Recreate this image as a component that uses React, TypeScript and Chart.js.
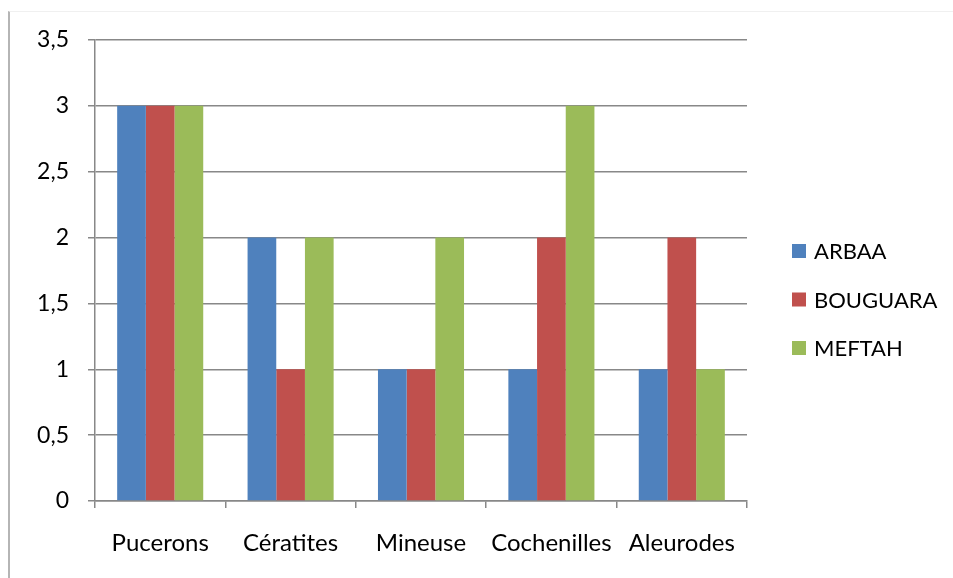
import React, { useEffect, useRef } from "react";
import { Chart, registerables } from "chart.js";

Chart.register(...registerables);

const categories = ["Pucerons", "Cératites", "Mineuse", "Cochenilles", "Aleurodes"];
const seriesNames = ["ARBAA", "BOUGUARA", "MEFTAH"];
const arbaa = [3, 2, 1, 1, 1];
const bouguara = [3, 1, 1, 2, 2];
const meftah = [3, 2, 2, 3, 1];
const seriesColors = ["#4F81BD", "#C0504D", "#9BBB59"];

const FONT = "Lato, 'Open Sans', sans-serif";
const Y_FONT_SIZE = 23;
const X_FONT_SIZE = 24;
const LEGEND_FONT_SIZE = 22;

const legendPlugin = {
  id: "sideLegend",
  afterDraw(chart: any) {
    const { ctx, chartArea } = chart;
    const mid = (chartArea.top + chartArea.bottom) / 2;
    const x = chartArea.right + 45;
    ctx.save();
    ctx.font = `${LEGEND_FONT_SIZE}px ${FONT}`;
    ctx.textBaseline = "middle";
    ctx.textAlign = "left";
    chart.data.datasets.forEach((ds: any, i: number) => {
      const y = mid + 29 + (i - 1) * 48.5;
      ctx.fillStyle = ds.backgroundColor;
      ctx.fillRect(x, y - 7, 14, 14);
      ctx.fillStyle = "#000";
      ctx.fillText(ds.label, x + 22, y + 1);
    });
    ctx.restore();
  },
};

export default function App() {
  const ref = useRef<HTMLCanvasElement>(null);
  useEffect(() => {
    if (!ref.current) return;
    const values = [arbaa, bouguara, meftah];
    const chart = new Chart(ref.current, {
      type: "bar",
      data: {
        labels: categories,
        datasets: seriesNames.map((name, i) => ({
          label: name,
          data: values[i],
          backgroundColor: seriesColors[i],
          borderWidth: 0,
          categoryPercentage: 0.66,
          barPercentage: 1,
        })),
      },
      options: {
        animation: false,
        responsive: true,
        maintainAspectRatio: false,
        layout: { padding: { top: 40, right: 206, bottom: 0, left: 0 } },
        plugins: {
          legend: { display: false },
          tooltip: { enabled: false },
          title: { display: false },
        },
        scales: {
          x: {
            grid: {
              offset: true,
              drawOnChartArea: false,
              drawTicks: true,
              tickLength: 7,
              color: "#888888",
              lineWidth: 1.5,
            },
            border: { display: true, color: "#888888", width: 1.5 },
            ticks: {
              color: "#000",
              font: { family: FONT, size: X_FONT_SIZE },
              padding: 21,
              maxRotation: 0,
              autoSkip: false,
            },
            afterFit(scale: any) {
              scale.height = 77;
            },
          },
          y: {
            min: 0,
            max: 3.5,
            ticks: {
              stepSize: 0.5,
              color: "#000",
              font: { family: FONT, size: Y_FONT_SIZE },
              padding: 19,
              callback: (v: any) => String(v).replace(".", ","),
            },
            grid: {
              color: "#888888",
              lineWidth: 1.5,
              drawTicks: true,
              tickLength: 7,
            },
            border: { display: true, color: "#888888", width: 1.5 },
            afterFit(scale: any) {
              scale.width = 95;
            },
          },
        },
      },
      plugins: [legendPlugin],
    });
    return () => chart.destroy();
  }, []);

  return (
    <div style={{ position: "absolute", left: 0, top: 0, width: 953, height: 578, background: "#fff" }}>
      <div
        style={{
          position: "absolute",
          left: 8,
          top: 11,
          right: 0,
          bottom: 0,
          borderLeft: "2px solid #b5b5b5",
          borderTop: "1px solid #f0f0f0",
        }}
      />
      <div style={{ position: "absolute", left: 0, top: 0, width: 953, height: 578 }}>
        <canvas ref={ref} />
      </div>
    </div>
  );
}
